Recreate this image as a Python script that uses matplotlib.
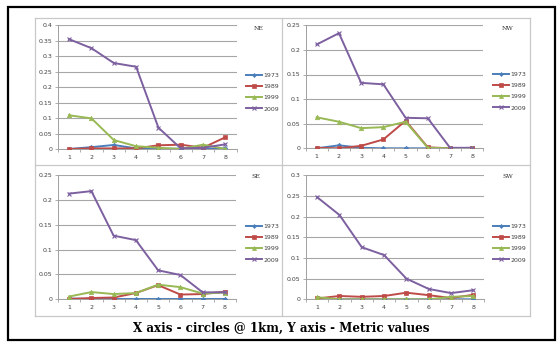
import matplotlib
matplotlib.use("Agg")
import matplotlib.pyplot as plt
from matplotlib.patches import Rectangle
from matplotlib.lines import Line2D

W, H = 560, 345

x_vals = [1, 2, 3, 4, 5, 6, 7, 8]
series_names = ["1973", "1989", "1999", "2009"]

ne_1973 = [0.0, 0.006, 0.013, 0.002, 0.001, 0.001, 0.0, 0.002]
ne_1989 = [0.0, 0.002, 0.002, 0.002, 0.012, 0.014, 0.004, 0.038]
ne_1999 = [0.109, 0.099, 0.029, 0.009, 0.004, 0.0, 0.014, 0.0]
ne_2009 = [0.355, 0.326, 0.278, 0.266, 0.069, 0.002, 0.004, 0.015]

nw_1973 = [0.0, 0.006, 0.001, 0.0, 0.0, 0.0, 0.0, 0.0]
nw_1989 = [0.001, 0.0, 0.005, 0.018, 0.056, 0.002, 0.0, 0.001]
nw_1999 = [0.063, 0.054, 0.041, 0.043, 0.054, 0.001, 0.0, 0.0]
nw_2009 = [0.211, 0.234, 0.133, 0.130, 0.062, 0.061, 0.001, 0.001]

se_1973 = [0.001, 0.0, 0.0, 0.0, 0.0, 0.0, 0.0, 0.0]
se_1989 = [0.0, 0.002, 0.003, 0.012, 0.028, 0.009, 0.010, 0.015]
se_1999 = [0.005, 0.014, 0.010, 0.012, 0.029, 0.024, 0.011, 0.013]
se_2009 = [0.213, 0.218, 0.128, 0.119, 0.058, 0.0485, 0.0135, 0.0135]

sw_1973 = [0.001, 0.0, 0.0, 0.0, 0.0, 0.0, 0.0, 0.0]
sw_1989 = [0.002, 0.008, 0.006, 0.008, 0.016, 0.010, 0.003, 0.011]
sw_1999 = [0.005, 0.0, 0.0, 0.0, 0.0, 0.0, 0.006, 0.008]
sw_2009 = [0.247, 0.204, 0.126, 0.107, 0.050, 0.025, 0.015, 0.022]

ne_yticks = [0, 0.05, 0.1, 0.15, 0.2, 0.25, 0.3, 0.35, 0.4]
nw_yticks = [0, 0.05, 0.1, 0.15, 0.2, 0.25]
se_yticks = [0, 0.05, 0.1, 0.15, 0.2, 0.25]
sw_yticks = [0, 0.05, 0.1, 0.15, 0.2, 0.25, 0.3]

caption = "X axis - circles @ 1km, Y axis - Metric values"

colors = ["#4A7EBB", "#BE4B48", "#98B954", "#7D60A0"]
markers = ["D", "s", "^", "x"]
msizes = [2.2, 3.2, 3.2, 3.5]

fig = plt.figure(figsize=(W / 100, H / 100), dpi=100)
fig.patch.set_facecolor("white")


def rect(l, r, top, bottom):
    return [l / W, 1 - bottom / H, (r - l) / W, (bottom - top) / H]


# outer frame
fig.patches.append(Rectangle((8 / W, 1 - 340 / H), 547 / W, 333 / H,
                             transform=fig.transFigure, fill=False,
                             edgecolor="black", linewidth=1.6, zorder=0))
# panel grid lines
gcol = "#C8C8C8"
for xv in [35, 282, 530]:
    fig.add_artist(Line2D([xv / W, xv / W], [1 - 316 / H, 1 - 18 / H],
                          transform=fig.transFigure, color=gcol, lw=0.9))
for yv in [18, 165, 316]:
    fig.add_artist(Line2D([35 / W, 530 / W], [1 - yv / H, 1 - yv / H],
                          transform=fig.transFigure, color=gcol, lw=0.9))

panels = [
    ("NE", [ne_1973, ne_1989, ne_1999, ne_2009], ne_yticks,
     rect(58, 236.5, 25.3, 149), (259, 28), (246, 92)),
    ("NW", [nw_1973, nw_1989, nw_1999, nw_2009], nw_yticks,
     rect(305.6, 483.4, 25.3, 148.3), (508, 28), (493, 91)),
    ("SE", [se_1973, se_1989, se_1999, se_2009], se_yticks,
     rect(58, 236, 175.3, 299), (256, 177), (246, 243)),
    ("SW", [sw_1973, sw_1989, sw_1999, sw_2009], sw_yticks,
     rect(306, 484.5, 175.3, 299.3), (508, 177), (493, 243)),
]

for title, data, yticks, pos, tpos, lpos in panels:
    ax = fig.add_axes(pos)
    handles = []
    for vals, name, c, m, ms in zip(data, series_names, colors, markers, msizes):
        h, = ax.plot(x_vals, vals, color=c, lw=1.4, marker=m, markersize=ms,
                     markeredgewidth=0.8 if m == "x" else 0.5,
                     markeredgecolor=c, label=name, zorder=3)
        handles.append(h)
    ax.set_xlim(0.5, 8.5)
    ax.set_ylim(0, yticks[-1])
    ax.set_yticks(yticks)
    ax.set_yticklabels(["0" if v == 0 else ("%g" % v) for v in yticks])
    ax.set_xticks(x_vals)
    ax.set_xticklabels([str(v) for v in x_vals])
    ax.set_xticks([v + 0.5 for v in range(0, 9)], minor=True)
    ax.tick_params(axis="x", which="major", length=0, labelsize=4.5,
                   colors="#404040", pad=4)
    ax.tick_params(axis="x", which="minor", length=2, color="#A0A0A0",
                   width=0.6, direction="out")
    ax.tick_params(axis="y", length=2, labelsize=4.5, colors="#404040",
                   width=0.6, pad=2)
    ax.tick_params(axis="y", color="#A0A0A0")
    ax.grid(axis="y", color="#A6A6A6", lw=0.8)
    ax.set_axisbelow(True)
    for s in ["top", "right"]:
        ax.spines[s].set_visible(False)
    ax.spines["left"].set_color("#A0A0A0")
    ax.spines["bottom"].set_color("#A0A0A0")
    ax.spines["left"].set_linewidth(0.7)
    ax.spines["bottom"].set_linewidth(0.7)
    fig.text(tpos[0] / W, 1 - tpos[1] / H, title, fontsize=4.5,
             family="DejaVu Serif", color="#303030", ha="center", va="center")
    fig.legend(handles=handles, loc="center left",
               bbox_to_anchor=(lpos[0] / W, 1 - lpos[1] / H),
               frameon=False, fontsize=4.5, handlelength=2.6,
               handletextpad=0.15, labelspacing=0.95, borderpad=0,
               borderaxespad=0, markerscale=0.9, labelcolor="#404040")

fig.text(281 / W, 1 - 328 / H, caption, fontsize=8.6, fontweight="bold",
         family="DejaVu Serif", ha="center", va="center", color="black")

fig.savefig("out.png", dpi=100)
